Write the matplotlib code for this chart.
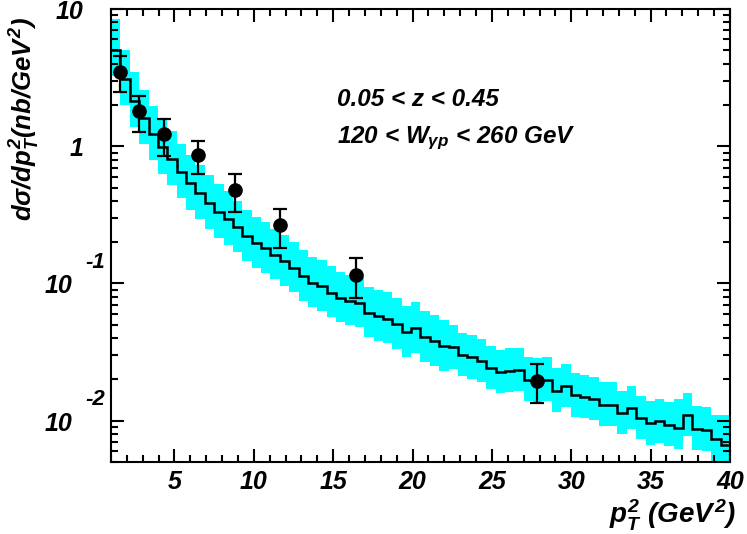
import numpy as np
import matplotlib.pyplot as plt
from matplotlib.ticker import MultipleLocator, LogLocator, NullFormatter

# bold italic everywhere, math included (ROOT style labels)
plt.rcParams['font.family'] = 'Liberation Sans'
plt.rcParams['font.weight'] = 'bold'
plt.rcParams['font.style'] = 'italic'
plt.rcParams['mathtext.fontset'] = 'custom'
for key in ('rm', 'it', 'bf', 'sf'):
    plt.rcParams['mathtext.' + key] = 'Liberation Sans:bold:italic'

# theory histogram: 66 bins between pT^2 = 1 and 40 GeV^2
pt2_min, pt2_max, n_bins = 1.0, 40.0, 66
theory = [5.0, 3.09, 2.15, 1.61, 1.22, 0.98, 0.81, 0.65, 0.537, 0.454,
          0.389, 0.334, 0.295, 0.258, 0.220, 0.197, 0.181, 0.162, 0.145, 0.130,
          0.113, 0.101, 0.0955, 0.0857, 0.0788, 0.0750, 0.0724, 0.0613, 0.058, 0.0555,
          0.0505, 0.0444, 0.047, 0.0404, 0.0382, 0.0351, 0.0342, 0.0301, 0.0289, 0.0274,
          0.0241, 0.0225, 0.0232, 0.0235, 0.0199, 0.0197, 0.0199, 0.0166, 0.0178, 0.0153,
          0.0148, 0.0144, 0.0131, 0.0131, 0.0114, 0.0124, 0.01045, 0.0096, 0.0099, 0.00935,
          0.00885, 0.0110, 0.00875, 0.0086, 0.00732, 0.00663]
# uncertainty band (upper / lower edge per bin)
band_hi = [8.4, 5.0, 3.45, 2.58, 1.95, 1.57, 1.30, 1.04, 0.86, 0.73,
           0.62, 0.535, 0.47, 0.40, 0.341, 0.305, 0.281, 0.251, 0.225, 0.202,
           0.175, 0.157, 0.148, 0.133, 0.122, 0.116, 0.112, 0.095, 0.090, 0.086,
           0.078, 0.069, 0.073, 0.0626, 0.0592, 0.0544, 0.0496, 0.0436, 0.0419, 0.0397,
           0.035, 0.0326, 0.0336, 0.0341, 0.0289, 0.0286, 0.0289, 0.0241, 0.0258, 0.0222,
           0.0215, 0.0209, 0.019, 0.019, 0.0165, 0.018, 0.0152, 0.0139, 0.0144, 0.0136,
           0.0145, 0.016, 0.0127, 0.0125, 0.011, 0.011]
band_lo = [3.25, 2.0, 1.39, 1.04, 0.79, 0.63, 0.52, 0.42, 0.346, 0.293,
           0.251, 0.215, 0.19, 0.170, 0.145, 0.130, 0.119, 0.107, 0.096, 0.086,
           0.075, 0.067, 0.063, 0.0566, 0.052, 0.0495, 0.0478, 0.0405, 0.0383, 0.0366,
           0.0333, 0.0293, 0.031, 0.0267, 0.0252, 0.0232, 0.0239, 0.0211, 0.0202, 0.0192,
           0.0169, 0.0158, 0.0162, 0.0165, 0.0139, 0.0138, 0.0139, 0.0116, 0.0125, 0.0107,
           0.0104, 0.0101, 0.0092, 0.0092, 0.0080, 0.0087, 0.0073, 0.0067, 0.0069, 0.0065,
           0.0062, 0.0077, 0.0061, 0.006, 0.0051, 0.0046]

# measured points with error bar ends
data_x = [1.57, 2.79, 4.35, 6.45, 8.79, 11.64, 16.44, 27.86]
data_y = [3.45, 1.82, 1.22, 0.86, 0.48, 0.265, 0.116, 0.0196]
data_up = [4.56, 2.34, 1.59, 1.10, 0.627, 0.349, 0.153, 0.0259]
data_dn = [2.47, 1.28, 0.847, 0.627, 0.334, 0.181, 0.0788, 0.0135]

x_ticks = [5, 10, 15, 20, 25, 30, 35, 40]
y_ticks = [10, 1, 0.1, 0.01]
y_base = ['10', '1', '10', '10']
y_exp = ['', '', '-1', '-2']

edges = np.linspace(pt2_min, pt2_max, n_bins + 1)
yerr = [np.array(data_y) - np.array(data_dn), np.array(data_up) - np.array(data_y)]

fig = plt.figure(figsize=(7.47, 5.34), dpi=100)
ax = fig.add_axes([0.1486, 0.1348, 0.8286, 0.8483])

ax.stairs(band_hi, edges, baseline=band_lo, fill=True, color='#00ffff', lw=0, zorder=1)
ax.stairs(theory, edges, baseline=None, color='black', lw=1.8, zorder=2)
ax.errorbar(data_x, data_y, yerr=yerr, fmt='o', color='black', ms=9.5,
            elinewidth=1.6, capsize=5, capthick=1.6, zorder=5)

ax.set_yscale('log')
ax.set_xlim(pt2_min, pt2_max)
ax.set_ylim(0.005, 10)

ax.set_xticks(x_ticks)
ax.xaxis.set_minor_locator(MultipleLocator(1))
ax.yaxis.set_major_locator(LogLocator(base=10))
ax.yaxis.set_minor_locator(LogLocator(base=10, subs=np.arange(2, 10)))
ax.yaxis.set_major_formatter(NullFormatter())
ax.yaxis.set_minor_formatter(NullFormatter())
ax.tick_params(which='both', direction='in', top=True, right=True, width=1.5)
ax.tick_params(which='major', length=9.5)
ax.tick_params(which='minor', length=5)
ax.tick_params(axis='x', labelsize=18, pad=6)
for sp in ax.spines.values():
    sp.set_linewidth(1.5)

# y tick labels in ROOT style: base number plus raised exponent
for val, base, ex in zip(y_ticks, y_base, y_exp):
    shift = -39 if ex else -28
    ax.annotate(base, xy=(0, val), xycoords=('axes fraction', 'data'),
                xytext=(shift, -3), textcoords='offset pixels',
                ha='right', va='center', fontsize=18)
    if ex:
        ax.annotate(ex, xy=(0, val), xycoords=('axes fraction', 'data'),
                    xytext=(-26, 21), textcoords='offset pixels',
                    ha='left', va='center', fontsize=16)

fig.text(0.033, 0.778, r'$d\sigma/dp_T^2(nb/GeV^2)$', rotation=90,
         ha='center', va='center', fontsize=18.5)
fig.text(0.985, 0.034, r'$p_T^2\ (GeV^2)$', ha='right', va='center', fontsize=20)

ax.text(0.365, 0.80, '0.05 < z < 0.45', transform=ax.transAxes,
        ha='left', va='center', fontsize=17.5)
ax.text(0.365, 0.715, r'120 < $W_{\gamma p}$ < 260 GeV', transform=ax.transAxes,
        ha='left', va='center', fontsize=17.5)

fig.savefig('out.png', dpi=100)
